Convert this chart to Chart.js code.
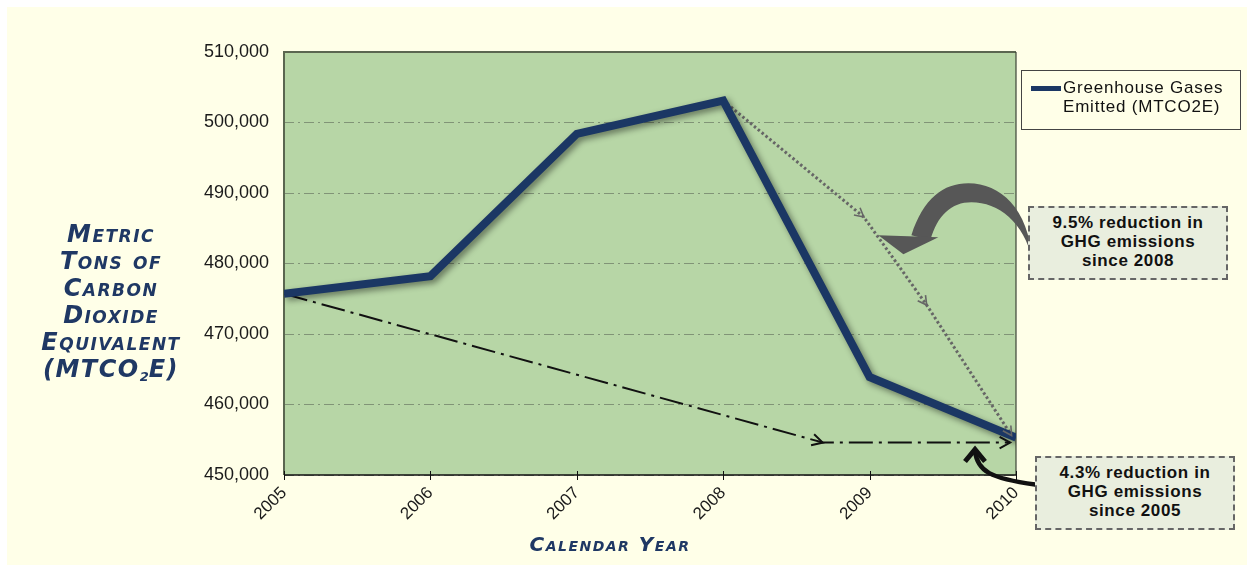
<!DOCTYPE html>
<html>
<head>
<meta charset="utf-8">
<script src="https://cdn.jsdelivr.net/npm/chart.js@4.4.1/dist/chart.umd.min.js"></script>
<style>
  body { margin: 0; background: #ffffff; }
  #wrap { position: relative; width: 1247px; height: 565px; overflow: hidden; }
  #panel { position: absolute; left: 7px; top: 7px; right: 0; bottom: 0; background: #ffffe8; }
  #chart { position: absolute; left: 0; top: 0; }
  .title { position: absolute; color: #1f3864; font-family: "DejaVu Sans", sans-serif;
           font-weight: bold; font-style: italic; font-variant: small-caps; text-align: center; }
  #ytitle { left: 0; width: 222px; top: 221px; font-size: 24px; line-height: 27px; letter-spacing: 1.5px; }
  #ytitle sub { font-size: 13px; vertical-align: -4px; letter-spacing: 0; }
  #xtitle { left: 410px; width: 400px; top: 532px; font-size: 20px; line-height: 24px; letter-spacing: 1.5px; }
  #legend { position: absolute; left: 1021px; top: 70px; width: 218px; height: 58px; border: 1px solid #444;
            font-family: "Liberation Sans", Arial, sans-serif; font-size: 17px; line-height: 19px; letter-spacing: 0.8px; color: #111; }
  #legend .swatch { position: absolute; left: 9px; top: 15px; width: 30px; height: 5px; background: #1b3764; }
  #legend .txt { position: absolute; left: 41px; top: 7px; white-space: nowrap; }
  .note { position: absolute; width: 196px; border: 2px dashed #666; background: #e9eede;
          font-family: "Liberation Sans", Arial, sans-serif; font-weight: bold; font-size: 17px; line-height: 19px;
          letter-spacing: 0.6px; color: #111; text-align: center; box-sizing: content-box; padding-top: 5px; height: 65px; }
  #note1 { left: 1028px; top: 206px; }
  #note2 { left: 1035px; top: 456px; }
</style>
</head>
<body>
<div id="wrap">
  <div id="panel"></div>
  <canvas id="chart" width="1247" height="565"></canvas>
  <div id="ytitle" class="title">Metric<br>Tons of<br>Carbon<br>Dioxide<br>Equivalent<br>(MTCO<sub>2</sub>E)</div>
  <div id="xtitle" class="title">Calendar Year</div>
  <div id="legend"><div class="swatch"></div><div class="txt">Greenhouse Gases<br>Emitted (MTCO2E)</div></div>
  <div id="note1" class="note">9.5% reduction in<br>GHG emissions<br>since 2008</div>
  <div id="note2" class="note">4.3% reduction in<br>GHG emissions<br>since 2005</div>
</div>
<script>
// emissions by calendar year
const years = [2005, 2006, 2007, 2008, 2009, 2010];
const emissions = [475700, 478200, 498400, 503100, 463900, 455300];

// dash-dot guide from 2005 level
const trend05X = [2005, 2008.68, 2009.96];
const trend05Y = [475700, 454600, 454600];

// dotted guide from 2008 peak
const trend08X = [2008, 2008.96, 2009.39, 2009.97];
const trend08Y = [503100, 486600, 474100, 455600];

const yMin = 450000, yMax = 510000, yStep = 10000;

const toXY = (xs, ys) => xs.map((x, i) => ({x: x, y: ys[i]}));

function arrowHead(ctx, from, to, len, color, width) {
    const a = Math.atan2(to.y - from.y, to.x - from.x);
    ctx.save();
    ctx.setLineDash([]);
    ctx.strokeStyle = color;
    ctx.lineWidth = width;
    ctx.beginPath();
    ctx.moveTo(to.x - len * Math.cos(a - 0.5), to.y - len * Math.sin(a - 0.5));
    ctx.lineTo(to.x, to.y);
    ctx.lineTo(to.x - len * Math.cos(a + 0.5), to.y - len * Math.sin(a + 0.5));
    ctx.stroke();
    ctx.restore();
}

const decor = {
    id: 'decor',
    beforeDraw(chart) {
        const {ctx, chartArea: a} = chart;
        ctx.save();
        ctx.fillStyle = '#b7d6a6';
        ctx.fillRect(a.left, a.top, a.right - a.left, a.bottom - a.top);
        ctx.restore();
    },
    beforeDatasetsDraw(chart) {
        const {ctx, chartArea: a, scales} = chart;
        ctx.save();
        ctx.strokeStyle = '#5b6650';
        ctx.lineWidth = 2;
        ctx.beginPath();
        ctx.moveTo(a.left, a.bottom);
        ctx.lineTo(a.left, a.top);
        ctx.lineTo(a.right, a.top);
        ctx.stroke();
        ctx.strokeStyle = '#3c4436';
        ctx.lineWidth = 1.2;
        ctx.beginPath();
        ctx.moveTo(a.right, a.top);
        ctx.lineTo(a.right, a.bottom);
        ctx.stroke();
        ctx.strokeStyle = '#111';
        ctx.lineWidth = 1.5;
        ctx.beginPath();
        ctx.moveTo(a.left, a.bottom);
        ctx.lineTo(a.right, a.bottom);
        ctx.stroke();
        ctx.lineWidth = 1;
        years.forEach(yr => {
            const x = Math.round(scales.x.getPixelForValue(yr)) + 0.5;
            ctx.beginPath();
            ctx.moveTo(x, a.bottom - 4);
            ctx.lineTo(x, a.bottom + 5);
            ctx.stroke();
        });
        ctx.restore();
    },
    beforeDatasetDraw(chart, args) {
        if (args.index === 0) {
            const ctx = chart.ctx;
            ctx.save();
            ctx.shadowColor = 'rgba(0,0,0,0.45)';
            ctx.shadowBlur = 6;
            ctx.shadowOffsetX = 3;
            ctx.shadowOffsetY = 3;
        }
    },
    afterDatasetDraw(chart, args) {
        if (args.index === 0) chart.ctx.restore();
    },
    afterDraw(chart) {
        const ctx = chart.ctx;
        const sx = chart.scales.x, sy = chart.scales.y;
        // arrow heads on guide lines
        const m1 = chart.getDatasetMeta(1).data;
        for (let i = 1; i < m1.length; i++) arrowHead(ctx, m1[i - 1], m1[i], 12, '#111', 2);
        const m2 = chart.getDatasetMeta(2).data;
        for (let i = 1; i < m2.length; i++) arrowHead(ctx, m2[i - 1], m2[i], 10, '#666', 1.6);

        // big grey curved arrow toward the 2008 guide
        let tx = sx.getPixelForValue(2009.06), ty = sy.getPixelForValue(484000);
        ctx.save();
        ctx.translate(tx, ty);
        ctx.fillStyle = '#575757';
        ctx.beginPath();
        ctx.moveTo(33, 0);
        ctx.bezierCurveTo(45, -37, 65, -52, 90, -52);
        ctx.bezierCurveTo(122, -52, 150, -27, 154, 25);
        ctx.bezierCurveTo(146, -13, 120, -33, 93, -33);
        ctx.bezierCurveTo(73, -33, 59, -20, 52, 5);
        ctx.closePath();
        ctx.fill();
        ctx.beginPath();
        ctx.moveTo(0, 0);
        ctx.lineTo(60, 2);
        ctx.lineTo(25, 19);
        ctx.closePath();
        ctx.fill();
        ctx.restore();

        // black curved arrow toward the 2005 guide
        tx = sx.getPixelForValue(2009.72);
        ty = sy.getPixelForValue(453900);
        ctx.save();
        ctx.translate(tx, ty);
        ctx.strokeStyle = '#111';
        ctx.lineWidth = 4.5;
        ctx.lineCap = 'round';
        ctx.beginPath();
        ctx.moveTo(0, 3);
        ctx.bezierCurveTo(2, 24, 16, 31, 60, 37);
        ctx.stroke();
        ctx.lineCap = 'butt';
        ctx.lineJoin = 'miter';
        ctx.lineWidth = 5;
        ctx.beginPath();
        ctx.moveTo(-10, 14);
        ctx.lineTo(0, 2);
        ctx.lineTo(10, 14);
        ctx.stroke();
        ctx.restore();
    }
};

new Chart(document.getElementById('chart'), {
    type: 'line',
    data: {
        datasets: [{
            label: 'Greenhouse Gases Emitted (MTCO2E)',
            data: toXY(years, emissions),
            borderColor: '#1b3764',
            borderWidth: 8,
            borderJoinStyle: 'miter',
            pointRadius: 0,
            tension: 0,
            fill: false,
            order: 0
        }, {
            label: 'since 2005',
            data: toXY(trend05X, trend05Y),
            borderColor: '#111',
            borderWidth: 2,
            borderDash: [24, 6, 3, 6],
            pointRadius: 0,
            tension: 0,
            fill: false,
            order: 2
        }, {
            label: 'since 2008',
            data: toXY(trend08X, trend08Y),
            borderColor: '#666',
            borderWidth: 3,
            borderDash: [2.5, 2.5],
            pointRadius: 0,
            tension: 0,
            fill: false,
            order: 1
        }]
    },
    options: {
        responsive: false,
        animation: false,
        layout: { padding: { top: 52, right: 231, bottom: 0, left: 0 } },
        plugins: { legend: { display: false }, tooltip: { enabled: false } },
        scales: {
            x: {
                type: 'linear',
                min: 2005,
                max: 2010,
                afterFit: s => { s.height = 90; },
                ticks: {
                    stepSize: 1,
                    maxRotation: 45,
                    minRotation: 45,
                    padding: 8,
                    color: '#1a1a1a',
                    font: { family: 'Liberation Sans', size: 17 },
                    callback: v => String(v)
                },
                grid: { drawOnChartArea: false, drawTicks: false },
                border: { display: false }
            },
            y: {
                min: yMin,
                max: yMax,
                afterFit: s => { s.width = 284; },
                ticks: {
                    stepSize: yStep,
                    padding: 15,
                    color: '#1a1a1a',
                    font: { family: 'Liberation Sans', size: 18 },
                    callback: v => v.toLocaleString('en-US')
                },
                grid: { color: 'rgba(105,120,100,0.7)', lineWidth: 1, drawTicks: false },
                border: { display: false, dash: [10, 4, 2, 4] }
            }
        }
    },
    plugins: [decor]
});
</script>
</body>
</html>
